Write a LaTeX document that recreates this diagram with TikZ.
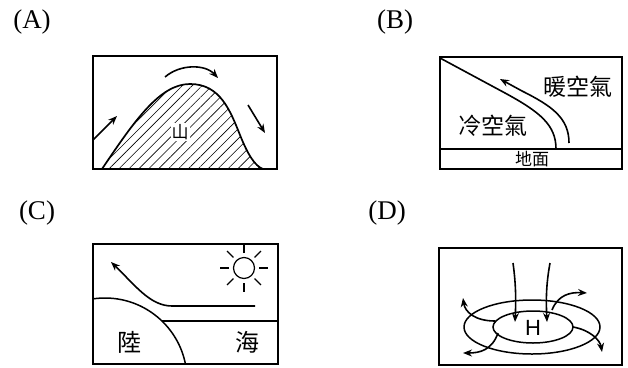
\documentclass[tikz,border=0pt]{standalone}
\usepackage{fontspec}
\setmainfont{Liberation Serif}
\setsansfont{Liberation Sans}
\newfontfamily\cjk{Noto Sans CJK TC}
\usetikzlibrary{arrows.meta,patterns.meta,calc}
\begin{document}
\begin{tikzpicture}[x=1pt,y=-1pt,
  panel/.style={draw, line width=1.5pt},
  tag/.style={font=\fontsize{27}{27}\selectfont},
  flow/.style={line width=1.6pt, -{Stealth[length=9pt,width=7pt]}},
  zh/.style={font=\cjk\fontsize{#1}{#1}\selectfont, inner sep=0pt}]
\useasboundingbox (0,0) rectangle (628,367);

% (A) mountain
\node[tag] (ta) at (32,22) {(A)};
\draw[pattern={Lines[angle=45,distance=7pt,line width=0.6pt]}, line width=1.7pt]
  (102,169) .. controls (135,120) and (160,84) .. (190,84)
  .. controls (220,84) and (230,110) .. (240,135)
  .. controls (248,155) and (255,166) .. (263,169);
\draw[panel] (93,56) rectangle (277,169);
\node[zh=17, fill=white, inner sep=1pt] (shan) at (180,132) {山};
\draw[flow] (93,140) -- (117,116);
\draw[flow] (165,77) .. controls (180,64) and (205,64) .. (218,78);
\draw[flow] (248,105) -- (265,133);

% (B) front
\node[tag] (tb) at (395,22) {(B)};
\draw[panel] (440,57) rectangle (622,169);
\draw[panel] (440,149) -- (622,149);
\node[zh=17] (ground) at (532,159) {地面};
\draw[line width=1.6pt] (440,58) -- (505,93) .. controls (540,112) and (556,125) .. (556,149);
\draw[flow] (569,143) .. controls (569,118) and (552,106) .. (522,91) -- (500,79);
\node[zh=23] (warm) at (578,87) {暖空氣};
\node[zh=23] (cold) at (493,126) {冷空氣};

% (C) land and sea
\node[tag] (tc) at (37,213) {(C)};
\begin{scope}
  \clip (93,244) rectangle (278,364);
  \draw[line width=1.5pt] (105,380) circle[radius=82];
\end{scope}
\draw[line width=1.5pt] (162,321) -- (278,321);
\draw[panel] (93,244) rectangle (278,364);
\node[zh=24] (land) at (129,342) {陸};
\node[zh=24] (sea) at (247,342) {海};
\draw[flow] (255,306) -- (172,306) .. controls (150,306) and (135,285) .. (111,262);
\node[draw, circle, line width=1.2pt, minimum size=21pt, inner sep=0pt] (sun) at (244,268) {};
\foreach \a in {0,45,...,315}
  \draw[line width=1.2pt] ($(sun)+(\a:15)$) -- ($(sun)+(\a:24)$);

% (D) high pressure
\node[tag] (td) at (387,213) {(D)};
\draw[panel] (439,248) rectangle (622,365);
\draw[line width=1.5pt] (532,327) ellipse[x radius=68, y radius=27];
\draw[line width=1.5pt] (533,327) ellipse[x radius=40, y radius=16];
\node[font=\sffamily\fontsize{22}{22}\selectfont] (hi) at (533,328) {H};
\draw[flow] (513,263) .. controls (516,285) and (516,300) .. (515,322);
\draw[flow] (550,263) .. controls (546,285) and (546,300) .. (547,322);
\draw[flow] (552,310) .. controls (558,295) and (570,292) .. (587,293);
\draw[flow] (573,327) .. controls (590,330) and (600,340) .. (602,352);
\draw[flow] (495,321) .. controls (475,321) and (465,312) .. (463,298);
\draw[flow] (498,333) .. controls (492,350) and (480,353) .. (463,353);
\end{tikzpicture}
\end{document}
